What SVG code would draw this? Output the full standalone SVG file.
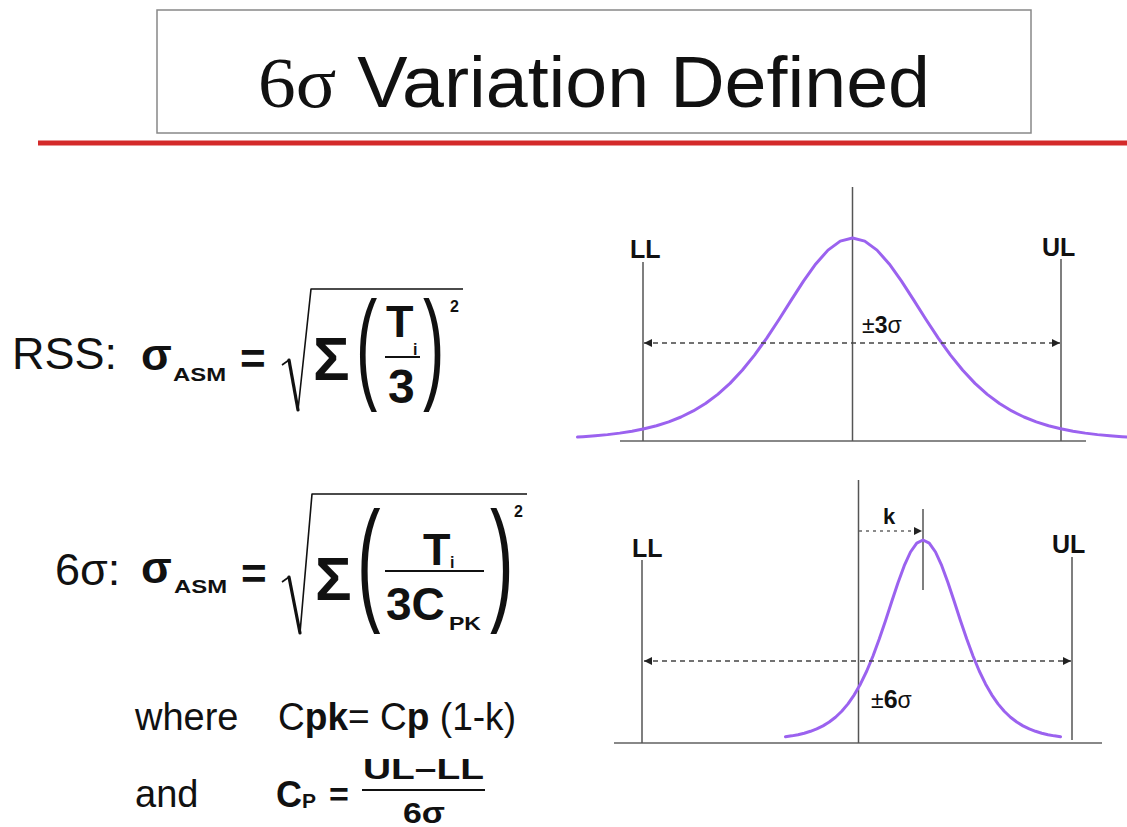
<svg xmlns="http://www.w3.org/2000/svg" width="1127" height="827" viewBox="0 0 1127 827">
<defs>
<style>
text{font-family:"Liberation Sans",Arial,sans-serif;fill:#111}
.b{font-weight:bold}
.ser{font-family:"Liberation Serif","Times New Roman",serif}
.ax{stroke:#555;stroke-width:1.5;fill:none}
.base{stroke:#888;stroke-width:2;fill:none}
.curve{stroke:#9b62ef;stroke-width:3;fill:none;stroke-linejoin:round;stroke-linecap:round}
.dash{stroke:#444;stroke-width:1.5;stroke-dasharray:5 4;fill:none}
.dot{stroke:#666;stroke-width:1.5;stroke-dasharray:3 4;fill:none}
.rad{stroke:#111;stroke-width:1.6;fill:none;stroke-linejoin:round}
.radk{stroke:#111;stroke-width:3.2;fill:none;stroke-linecap:round}
.bar{stroke:#111;stroke-width:2}
</style>
<marker id="ah" viewBox="0 0 10 10" refX="10" refY="5" markerWidth="9" markerHeight="8" markerUnits="userSpaceOnUse" orient="auto-start-reverse">
<path d="M0,0 L10,5 L0,10 z" fill="#222"/>
</marker>
</defs>
<rect width="1127" height="827" fill="#fff"/>

<g id="title">
<rect x="157" y="10" width="874" height="123" fill="#fff" stroke="#888" stroke-width="1.5"/>
<text x="258" y="107" font-size="72" textLength="672" lengthAdjust="spacingAndGlyphs"><tspan class="ser">6σ</tspan> Variation Defined</text>
<line x1="38" y1="143" x2="1127" y2="143" stroke="#d42a2a" stroke-width="5"/>
</g>

<g id="formula-rss">
<text x="12" y="369" font-size="45">RSS:</text>
<text x="141" y="370" font-size="45" class="b">σ</text>
<text x="173" y="381" font-size="18" class="b" textLength="53" lengthAdjust="spacingAndGlyphs">ASM</text>
<text x="240" y="374" font-size="44" class="b">=</text>
<path class="rad" d="M282,365 L289,360 M298,410 L311,289 L463,289"/>
<line class="radk" x1="289" y1="360" x2="298" y2="410"/>
<text x="313" y="380" font-size="61" class="b">Σ</text>
<text transform="translate(356,387) scale(0.52,1)" font-size="123">(</text>
<text x="386" y="337" font-size="45" class="b">T</text>
<text x="413" y="355" font-size="16" class="b">i</text>
<line class="bar" x1="385" y1="357" x2="420" y2="357"/>
<text x="388" y="403" font-size="48" class="b">3</text>
<text transform="translate(423,387) scale(0.52,1)" font-size="123">)</text>
<text x="450" y="312" font-size="16" class="b">2</text>
</g>

<g id="formula-6sigma">
<text x="55" y="585" font-size="45">6σ:</text>
<text x="141" y="583" font-size="45" class="b">σ</text>
<text x="174" y="593" font-size="18" class="b" textLength="53" lengthAdjust="spacingAndGlyphs">ASM</text>
<text x="241" y="589" font-size="44" class="b">=</text>
<path class="rad" d="M282,582 L289,577 M300,633 L312,494 L527,494"/>
<line class="radk" x1="289" y1="577" x2="300" y2="633"/>
<text x="315" y="600" font-size="61" class="b">Σ</text>
<text transform="translate(357,606) scale(0.52,1)" font-size="136">(</text>
<text x="423" y="565" font-size="45" class="b">T</text>
<text x="450" y="568" font-size="16" class="b">i</text>
<line class="bar" x1="385" y1="571" x2="484" y2="571"/>
<text x="386" y="620" font-size="46" class="b">3C</text>
<text x="449" y="630" font-size="19" class="b" textLength="32" lengthAdjust="spacingAndGlyphs">PK</text>
<text transform="translate(490,606) scale(0.52,1)" font-size="136">)</text>
<text x="514" y="517" font-size="16" class="b">2</text>
</g>

<g id="formula-cpk">
<text x="135" y="730" font-size="38">where</text>
<text x="278" y="730" font-size="38" textLength="238" lengthAdjust="spacingAndGlyphs">C<tspan class="b">pk</tspan>= C<tspan class="b">p</tspan> (1-k)</text>
<text x="135" y="807" font-size="38">and</text>
<text x="276" y="807" font-size="36" class="b">C<tspan font-size="21" dy="1">P</tspan></text>
<text x="329" y="806" font-size="34" class="b">=</text>
<text x="363" y="779" font-size="29" class="b" textLength="121" lengthAdjust="spacingAndGlyphs">UL–LL</text>
<line class="bar" x1="362" y1="790" x2="485" y2="790"/>
<text x="403" y="823" font-size="29" class="b" textLength="42" lengthAdjust="spacingAndGlyphs">6σ</text>
</g>

<g id="chart-3sigma">
<line class="base" x1="620" y1="441" x2="1086" y2="441"/>
<line class="ax" x1="852.5" y1="187" x2="852.5" y2="441"/>
<line class="ax" x1="643" y1="262" x2="643" y2="441"/>
<line class="ax" x1="1061" y1="259" x2="1061" y2="441"/>
<text x="630" y="258" font-size="25" class="b">LL</text>
<text x="1042" y="256" font-size="25" class="b">UL</text>
<polyline class="curve" points="577.5,437.1 583,436.73 595.25,435.8 607.5,434.63 619.75,433.13 632,431.22 644.25,428.8 656.5,425.73 668.75,421.86 681,417.01 693.25,410.97 705.5,403.5 717.75,394.37 730,383.36 742.25,370.3 754.5,355.17 766.75,338.09 779,319.49 791.25,300.13 803.5,281.14 815.75,263.94 828,250.12 840.25,241.13 852.5,238 864.75,241.13 877,250.12 889.25,263.94 901.5,281.14 913.75,300.13 926,319.49 938.25,338.09 950.5,355.17 962.75,370.3 975,383.36 987.25,394.37 999.5,403.5 1011.75,410.97 1024,417.01 1036.25,421.86 1048.5,425.73 1060.75,428.8 1073,431.22 1085.25,433.13 1097.5,434.63 1109.75,435.8 1122,436.73 1127.5,437.1"/>
<text x="862" y="333" font-size="23">±<tspan class="b">3</tspan>σ</text>
</g>

<g id="chart-6sigma">
<line class="base" x1="614" y1="743" x2="1102" y2="743"/>
<line class="ax" x1="858.5" y1="480" x2="858.5" y2="743"/>
<line class="ax" x1="642" y1="560" x2="642" y2="743"/>
<line class="ax" x1="1072" y1="557" x2="1072" y2="740"/>
<line class="ax" x1="923" y1="509" x2="923" y2="590"/>
<text x="632" y="557" font-size="25" class="b">LL</text>
<text x="1052" y="553" font-size="25" class="b">UL</text>
<text x="883" y="524" font-size="22" class="b">k</text>
<polyline class="curve" points="785.5,736.76 791.75,735.85 798,734.68 804.25,733.2 810.5,731.31 816.75,728.91 823,725.87 829.25,722.04 835.5,717.24 841.75,711.25 848,703.86 854.25,694.82 860.5,683.92 866.75,670.99 873,656 879.25,639.1 885.5,620.68 891.75,601.51 898,582.71 904.25,565.68 910.5,552 916.75,543.1 923,540 929.25,543.1 935.5,552 941.75,565.68 948,582.71 954.25,601.51 960.5,620.68 966.75,639.1 973,656 979.25,670.99 985.5,683.92 991.75,694.82 998,703.86 1004.25,711.25 1010.5,717.24 1016.75,722.04 1023,725.87 1029.25,728.91 1035.5,731.31 1041.75,733.2 1048,734.68 1054.25,735.85 1060.5,736.76"/>
<text x="871" y="708" font-size="23">±<tspan class="b" font-size="25">6</tspan>σ</text>
</g>

<g id="connectors">
<line class="dash" x1="644" y1="343" x2="1060" y2="343" marker-start="url(#ah)" marker-end="url(#ah)"/>
<line class="dash" x1="644" y1="661" x2="1071" y2="661" marker-start="url(#ah)" marker-end="url(#ah)"/>
<line class="dot" x1="859" y1="531" x2="922" y2="531" marker-end="url(#ah)"/>
</g>
</svg>
